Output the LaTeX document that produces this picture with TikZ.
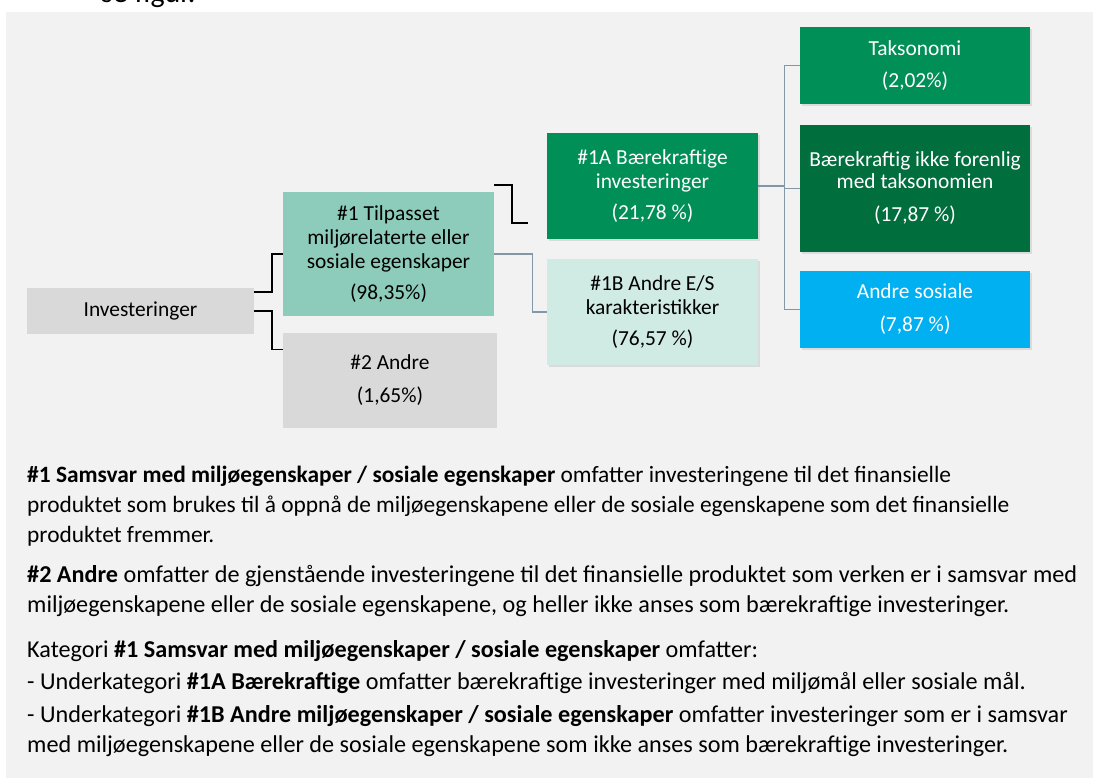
\documentclass[tikz,border=0pt]{standalone}
\usepackage{fontspec}
\setmainfont{Carlito}
\usetikzlibrary{shadows}
\definecolor{bgc}{HTML}{F2F2F2}
\definecolor{greyc}{HTML}{D9D9D9}
\definecolor{tealc}{HTML}{8DCCBA}
\definecolor{palec}{HTML}{D0EBE3}
\definecolor{greenc}{HTML}{008F56}
\definecolor{darkc}{HTML}{006E3D}
\definecolor{bluec}{HTML}{00B0F0}
\definecolor{linec}{HTML}{8497A6}
\newcommand\boxfont{\fontsize{21.4}{24}\selectfont}
\newcommand\notefont{\fontsize{23.4}{30}\selectfont}
\newcommand\notefontb{\fontsize{24.2}{30}\selectfont}
\tikzstyle{box} = [
  rectangle,
  inner sep=0pt,
  align=center,
  font=\boxfont,
]
\tikzstyle{shadowbox} = [
  box,
  drop shadow={shadow xshift=2pt, shadow yshift=-2.5pt, opacity=0.2},
]
\tikzstyle{blackline} = [line width=1.6pt, black]
\tikzstyle{greyline} = [line width=1.1pt, linec]
\tikzstyle{note} = [anchor=base west, inner sep=0pt, align=left, font=\notefont]
\tikzstyle{noteb} = [note, font=\notefontb]

\begin{document}
\begin{tikzpicture}[x=1pt, y=-1pt]
      \useasboundingbox (0,0) rectangle (1093,783);
      \fill[bgc] (6,12) rectangle (1093,778);
      \node[anchor=base west, inner sep=0pt, font=\fontsize{30}{34}\selectfont] (cap) at (101,3) {se figur.};

      % Boxes
      \node[box, fill=greyc, minimum width=227pt, minimum height=46pt] (inv) at (140.5,311) {Investeringer};
      \node[box, fill=tealc, minimum width=211pt, minimum height=124pt] (t1) at (388.5,254)
        {\#1 Tilpasset\\miljørelaterte eller\\sosiale egenskaper\\[7pt](98,35\%)};
      \node[box, fill=greyc, minimum width=214pt, minimum height=95pt] (a2) at (390,380.5)
        {\#2 Andre\\[9pt](1,65\%)};
      \node[shadowbox, fill=greenc, text=white, minimum width=211pt, minimum height=106pt] (b1a) at (652.5,186)
        {\#1A Bærekraftige\\investeringer\\[7pt](21,78 \%)};
      \node[shadowbox, fill=palec, minimum width=211pt, minimum height=106pt] (b1b) at (652.5,312)
        {\#1B Andre E/S\\karakteristikker\\[7pt](76,57 \%)};
      \node[shadowbox, fill=greenc, text=white, minimum width=230pt, minimum height=77pt] (tax) at (915,65.5)
        {Taksonomi\\[8pt](2,02\%)};
      \node[shadowbox, fill=darkc, text=white, minimum width=230pt, minimum height=127pt] (ikke) at (915,188.5)
        {Bærekraftig ikke forenlig\\[-2pt]med taksonomien\\[9pt](17,87 \%)};
      \node[shadowbox, fill=bluec, text=white, minimum width=230pt, minimum height=77pt] (sos) at (915,309.5)
        {Andre sosiale\\[9pt](7,87 \%)};

      % Connectors
      \draw[blackline] ([yshift=19pt]inv.east) -- ++(18,0) |- (t1.west);
      \draw[blackline] (inv.east) -- ++(18,0) |- ([yshift=31pt]a2.west);
      \draw[blackline] ([yshift=7pt]t1.north east) -- ++(18,0) |- ([xshift=-19pt,yshift=-37pt]b1a.west);
      \draw[greyline] (t1.east) -- ++(38,0) |- (b1b.west);
      \draw[greyline] (b1a.east) -- ++(26,0) coordinate (fork);
      \draw[greyline] (fork) |- (tax.west);
      \draw[greyline] (fork) |- (ikke.west);
      \draw[greyline] (fork) |- (sos.west);

      % Notes (base = last line)
      \node[note] (n1) at (27,542)
        {\textbf{\#1 Samsvar med miljøegenskaper / sosiale egenskaper} omfatter investeringene til det finansielle\\
         produktet som brukes til å oppnå de miljøegenskapene eller de sosiale egenskapene som det finansielle\\
         produktet fremmer.};
      \node[noteb] (n2) at (27,612)
        {\textbf{\#2 Andre} omfatter de gjenstående investeringene til det finansielle produktet som verken er i samsvar med\\
         miljøegenskapene eller de sosiale egenskapene, og heller ikke anses som bærekraftige investeringer.};
      \node[noteb] (n3) at (27,657)
        {Kategori \textbf{\#1 Samsvar med miljøegenskaper / sosiale egenskaper} omfatter:};
      \node[noteb] (n4) at (27,689)
        {- Underkategori \textbf{\#1A Bærekraftige} omfatter bærekraftige investeringer med miljømål eller sosiale mål.};
      \node[noteb] (n5) at (27,752)
        {- Underkategori \textbf{\#1B Andre miljøegenskaper / sosiale egenskaper} omfatter investeringer som er i samsvar\\
         med miljøegenskapene eller de sosiale egenskapene som ikke anses som bærekraftige investeringer.};
\end{tikzpicture}
\end{document}
